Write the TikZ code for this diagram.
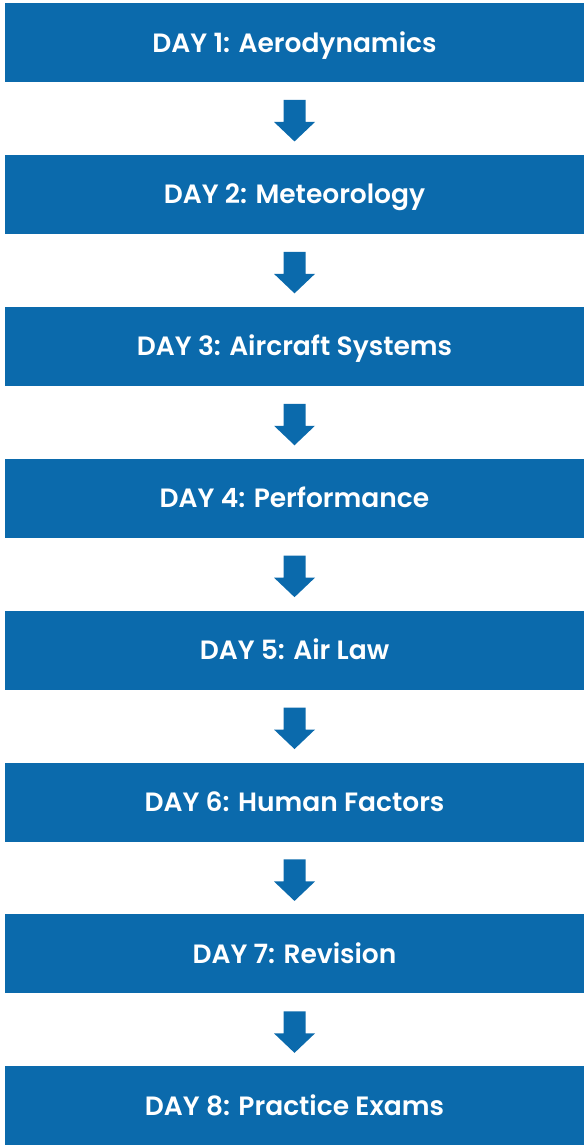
\documentclass[tikz,border=0pt]{standalone}
\usepackage{fontspec}
\setmainfont{Poppins}[UprightFont=* SemiBold,BoldFont=* Bold]
\usetikzlibrary{calc}
\definecolor{dayblue}{RGB}{11,106,172}
\begin{document}
\begin{tikzpicture}[x=1pt,y=-1pt,
  daybox/.style={fill=dayblue,draw=none,minimum width=579pt,minimum height=79pt,inner sep=0pt,
    text=white,font=\fontsize{26.5pt}{30pt}\selectfont},
  downarrow/.style={fill=dayblue,draw=none}]
\useasboundingbox (0,0) rectangle (584,1146);
\foreach \i/\t in {1/DAY 1: Aerodynamics,2/DAY 2: Meteorology,3/DAY 3: Aircraft Systems,
  4/DAY 4: Performance,5/DAY 5: Air Law,6/DAY 6: Human Factors,7/DAY 7: Revision,8/DAY 8: Practice Exams}{
  \node[daybox] (d\i) at (294.5,{42.5+(\i-1)*151.9}) {\raisebox{-9.5pt}[0pt][0pt]{\t}};
}
\foreach \i [evaluate=\i as \j using int(\i+1)] in {1,...,7}{
  \coordinate (m\i) at ($(d\i.south)!0.5!(d\j.north)$);
  \fill[downarrow] ($(m\i)+(-11,-18.5)$) -- ($(m\i)+(11,-18.5)$) -- ($(m\i)+(11,3.5)$)
    -- ($(m\i)+(20.5,3.5)$) -- ($(m\i)+(0,23)$) -- ($(m\i)+(-20.5,3.5)$)
    -- ($(m\i)+(-11,3.5)$) -- cycle;
}
\end{tikzpicture}
\end{document}
